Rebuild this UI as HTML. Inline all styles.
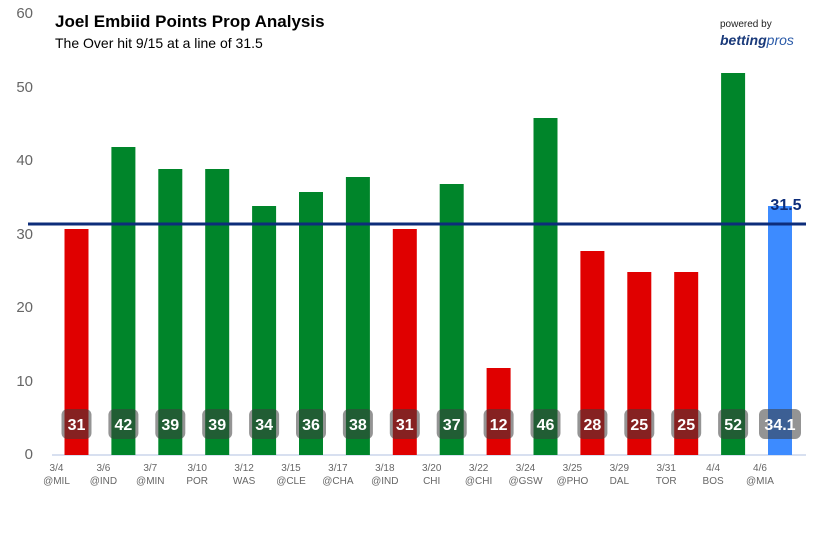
<!DOCTYPE html><html><head><style>
body{margin:0;width:818px;height:545px;background:#fff;overflow:hidden;font-family:"Liberation Sans",sans-serif}
</style></head><body>
<svg width="818" height="545" xmlns="http://www.w3.org/2000/svg" font-family="Liberation Sans, sans-serif">
<g fill="#666" font-size="15" text-anchor="end">
<text x="33" y="459">0</text><text x="33" y="386">10</text><text x="33" y="312">20</text><text x="33" y="239">30</text><text x="33" y="165">40</text><text x="33" y="92">50</text><text x="33" y="18">60</text>
</g>
<line x1="52" y1="455" x2="806" y2="455" stroke="#ccd6eb" stroke-width="1.5"/>
<g id="bars"></g>
<line x1="28" y1="224" x2="806" y2="224" stroke="#0d2d7a" stroke-width="3"/>
<text x="786" y="210" fill="#0d2d7a" font-size="16" font-weight="bold" text-anchor="middle">31.5</text>
<text x="55" y="27" font-size="17" font-weight="bold" fill="#000">Joel Embiid Points Prop Analysis</text>
<text x="55" y="48" font-size="14" fill="#000">The Over hit 9/15 at a line of 31.5</text>
<text x="720" y="27" font-size="10" fill="#222">powered by</text>
<text x="720" y="45" font-size="14" font-weight="bold" font-style="italic" fill="#1a3a7a">betting<tspan font-weight="normal" fill="#2a5aa8">pros</tspan></text>
</svg>
<script>
var d=[[31,229,'r','3/4','@MIL'],[42,147,'g','3/6','@IND'],[39,169,'g','3/7','@MIN'],[39,169,'g','3/10','POR'],[34,206,'g','3/12','WAS'],[36,192,'g','3/15','@CLE'],[38,177,'g','3/17','@CHA'],[31,229,'r','3/18','@IND'],[37,184,'g','3/20','CHI'],[12,368,'r','3/22','@CHI'],[46,118,'g','3/24','@GSW'],[28,251,'r','3/25','@PHO'],[25,272,'r','3/29','DAL'],[25,272,'r','3/31','TOR'],[52,73,'g','4/4','BOS'],['34.1',206,'b','4/6','@MIA']];
var c={r:'#e00000',g:'#00852a',b:'#3d8bff'},s='';
d.forEach(function(e,i){var x=76.5+46.9*i;
s+='<rect x="'+(x-12)+'" y="'+e[1]+'" width="24" height="'+(455-e[1])+'" fill="'+c[e[2]]+'"/>';
var w=e[2]=='b'?42:30;
s+='<rect x="'+(x-w/2)+'" y="409" width="'+w+'" height="30" rx="6" fill="rgba(60,60,60,0.55)"/>';
s+='<text x="'+x+'" y="430" fill="#fff" font-size="16" font-weight="bold" text-anchor="middle">'+e[0]+'</text>';
s+='<text x="'+(x-20)+'" y="471" fill="#666" font-size="10" text-anchor="middle">'+e[3]+'</text>';
s+='<text x="'+(x-20)+'" y="484" fill="#666" font-size="10" text-anchor="middle">'+e[4]+'</text>';});
document.getElementById('bars').innerHTML=s;
</script>
</body></html>
